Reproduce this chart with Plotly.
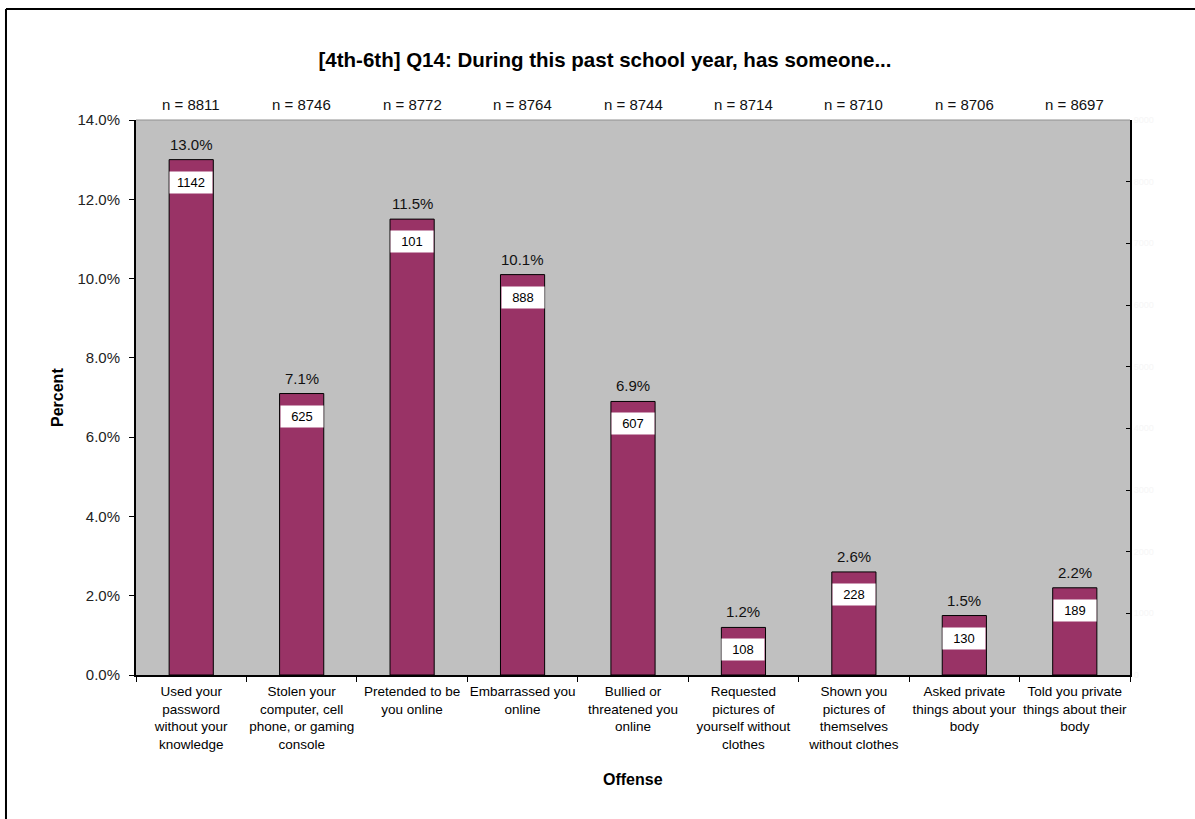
import plotly.graph_objects as go

categories = [
    "Used your<br>password<br>without your<br>knowledge",
    "Stolen your<br>computer, cell<br>phone, or gaming<br>console",
    "Pretended to be<br>you online",
    "Embarrassed you<br>online",
    "Bullied or<br>threatened you<br>online",
    "Requested<br>pictures of<br>yourself without<br>clothes",
    "Shown you<br>pictures of<br>themselves<br>without clothes",
    "Asked private<br>things about your<br>body",
    "Told you private<br>things about their<br>body",
]
percents = [13.0, 7.1, 11.5, 10.1, 6.9, 1.2, 2.6, 1.5, 2.2]
counts = [1142, 625, 101, 888, 607, 108, 228, 130, 189]
n_values = [8811, 8746, 8772, 8764, 8744, 8714, 8710, 8706, 8697]
y_ticks = [0, 2, 4, 6, 8, 10, 12, 14]

FONT = "Liberation Sans, Arial, sans-serif"

fig = go.Figure()
fig.add_trace(go.Bar(
    x=categories, y=percents,
    marker=dict(color="#993366", line=dict(color="#000000", width=1)),
    width=0.4, hoverinfo="skip", showlegend=False,
))
# sample sizes on the secondary (right) axis, kept invisible so the axis is drawn
fig.add_trace(go.Scatter(
    x=categories, y=n_values, yaxis="y2", mode="markers",
    marker=dict(opacity=0), hoverinfo="skip", showlegend=False,
))

annotations = []
for c, p, k, n in zip(categories, percents, counts, n_values):
    annotations.append(dict(x=c, y=p, xref="x", yref="y", text=f"{p:.1f}%",
                            showarrow=False, yanchor="bottom", yshift=5,
                            font=dict(family=FONT, size=15, color="#111111")))
    annotations.append(dict(x=c, y=p, xref="x", yref="y", text=str(k),
                            showarrow=False, yanchor="top", yshift=-11,
                            bgcolor="#ffffff", borderpad=3, width=36,
                            font=dict(family=FONT, size=13, color="#000000")))
    annotations.append(dict(x=c, y=1, xref="x", yref="paper", text=f"n = {n}",
                            showarrow=False, yanchor="bottom", yshift=5,
                            font=dict(family=FONT, size=15, color="#111111")))

annotations.append(dict(x=0.5, y=-0.189, xref="paper", yref="paper", text="<b>Offense</b>",
                        showarrow=False, yanchor="middle",
                        font=dict(family=FONT, size=16, color="#000000")))
annotations.append(dict(x=-0.079, y=0.5, xref="paper", yref="paper", text="<b>Percent</b>",
                        showarrow=False, textangle=-90, xanchor="center",
                        font=dict(family=FONT, size=16, color="#000000")))

fig.update_layout(
    width=1195, height=819,
    margin=dict(l=136, r=65, t=120, b=144),
    paper_bgcolor="#ffffff", plot_bgcolor="#c0c0c0",
    title=dict(text="<b>[4th-6th] Q14: During this past school year, has someone...</b>",
               x=605 / 1195, xanchor="center", xref="container",
               y=1 - 60 / 819, yanchor="middle", yref="container",
               font=dict(family=FONT, size=20.5, color="#000000")),
    font=dict(family=FONT, color="#000000"),
    bargap=0.6,
    annotations=annotations,
    xaxis=dict(type="category", showgrid=False, showline=True, linecolor="#000000", linewidth=2,
               ticks="outside", ticklen=5, tickcolor="#000000", tickson="boundaries",
               tickangle=0, automargin=False,
               tickfont=dict(family=FONT, size=13.5, color="#000000"), ticklabelstandoff=3),
    yaxis=dict(range=[0, 14], tickvals=y_ticks, ticktext=[f"{v:.1f}%" for v in y_ticks],
               showgrid=False, zeroline=False, showline=True, linecolor="#000000", linewidth=2,
               ticks="outside", ticklen=5, tickcolor="#000000", ticklabelstandoff=6,
               tickfont=dict(family=FONT, size=15, color="#222222")),
    yaxis2=dict(overlaying="y", side="right", range=[0, 9000], dtick=1000,
                showgrid=False, zeroline=False, showline=True, linecolor="#000000", linewidth=2,
                ticks="inside", ticklen=4, tickcolor="#000000",
                tickfont=dict(family=FONT, size=9, color="#f6f6f6")),
    shapes=[
        dict(type="line", xref="paper", yref="paper", x0=0, x1=1, y0=1, y1=1,
             line=dict(color="#909090", width=1)),
        dict(type="line", xref="paper", yref="paper", x0=-0.1308, x1=1.1, y0=1.2, y1=1.2,
             line=dict(color="#000000", width=2)),
        dict(type="line", xref="paper", yref="paper", x0=-0.1308, x1=-0.1308, y0=1.2, y1=-0.4,
             line=dict(color="#000000", width=2)),
    ],
)

fig.write_html("out.html")
